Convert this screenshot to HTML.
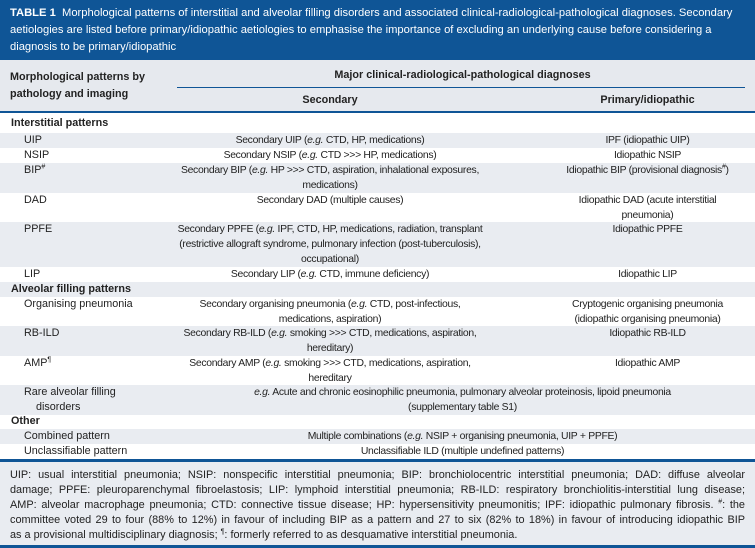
<!DOCTYPE html>
<html><head><meta charset="utf-8"><style>
*{margin:0;padding:0;box-sizing:border-box}
body{width:755px;height:548px;background:#fff;font-family:"Liberation Sans",sans-serif;font-size:10.4px;color:#222;position:relative;overflow:hidden;letter-spacing:-0.3px}
.t{position:absolute;left:0;top:0;width:755px;height:60px;background:#0f5596;color:#fff;padding:5px 10px;line-height:17px;font-size:11.2px;letter-spacing:0}
.t div{white-space:nowrap}
.hd{position:absolute;left:0;top:60px;width:755px;height:51px;background:#e6e9ee;font-size:10.8px;letter-spacing:0}
.r{position:absolute;left:0;width:755px}
.g{background:#e9ecf1}
.c{position:absolute;top:0;line-height:15px;white-space:nowrap}
.c1{left:24px;width:156px;font-size:10.8px;letter-spacing:0}
.c2{left:160px;width:340px;text-align:center}
.c3{left:530px;width:235px;text-align:center}
.cs{left:180px;width:565px;text-align:center}
.sec{left:11px;font-weight:bold;font-size:10.8px;letter-spacing:0}
.ft{position:absolute;left:0;top:462px;width:755px;height:83px;background:#e9ecf1;padding:6px 10px;line-height:15px;font-size:10.9px;letter-spacing:0}
.ft div{text-align:justify;text-align-last:justify;white-space:nowrap}
.ft div.l{text-align-last:left}
sup{font-size:7px;line-height:0}
</style></head><body>
<div class="t"><div><b>TABLE 1</b>&nbsp; Morphological patterns of interstitial and alveolar filling disorders and associated clinical-radiological-pathological diagnoses. Secondary</div><div>aetiologies are listed before primary/idiopathic aetiologies to emphasise the importance of excluding an underlying cause before considering a</div><div>diagnosis to be primary/idiopathic</div></div>
<div class="hd">
<div style="position:absolute;left:10px;top:9px;width:170px;font-weight:bold;line-height:17px">Morphological patterns by pathology and imaging</div>
<div style="position:absolute;left:180px;width:565px;top:9px;text-align:center;font-weight:bold">Major clinical-radiological-pathological diagnoses</div>
<div style="position:absolute;left:177px;width:568px;top:27px;height:1px;background:#0f5596"></div>
<div style="position:absolute;left:180px;width:300px;top:34px;text-align:center;font-weight:bold">Secondary</div>
<div style="position:absolute;left:545px;width:205px;top:34px;text-align:center;font-weight:bold">Primary/idiopathic</div>
</div>
<div style="position:absolute;left:0;top:111px;width:755px;height:2px;background:#0f5596"></div>

<div class="r" style="top:116px;height:17px"><div class="c sec">Interstitial patterns</div></div>
<div class="r g" style="top:133px;height:15px"><div class="c c1">UIP</div><div class="c c2">Secondary UIP (<i>e.g.</i> CTD, HP, medications)</div><div class="c c3">IPF (idiopathic UIP)</div></div>
<div class="r" style="top:148px;height:15px"><div class="c c1">NSIP</div><div class="c c2">Secondary NSIP (<i>e.g.</i> CTD &gt;&gt;&gt; HP, medications)</div><div class="c c3">Idiopathic NSIP</div></div>
<div class="r g" style="top:163px;height:30px"><div class="c c1">BIP<sup>#</sup></div><div class="c c2">Secondary BIP (<i>e.g.</i> HP &gt;&gt;&gt; CTD, aspiration, inhalational exposures,<br>medications)</div><div class="c c3">Idiopathic BIP (provisional diagnosis<sup>#</sup>)</div></div>
<div class="r" style="top:193px;height:29px"><div class="c c1">DAD</div><div class="c c2">Secondary DAD (multiple causes)</div><div class="c c3">Idiopathic DAD (acute interstitial<br>pneumonia)</div></div>
<div class="r g" style="top:222px;height:45px"><div class="c c1">PPFE</div><div class="c c2">Secondary PPFE (<i>e.g.</i> IPF, CTD, HP, medications, radiation, transplant<br>(restrictive allograft syndrome, pulmonary infection (post-tuberculosis),<br>occupational)</div><div class="c c3">Idiopathic PPFE</div></div>
<div class="r" style="top:267px;height:15px"><div class="c c1">LIP</div><div class="c c2">Secondary LIP (<i>e.g.</i> CTD, immune deficiency)</div><div class="c c3">Idiopathic LIP</div></div>
<div class="r g" style="top:282px;height:15px"><div class="c sec">Alveolar filling patterns</div></div>
<div class="r" style="top:297px;height:29px"><div class="c c1">Organising pneumonia</div><div class="c c2">Secondary organising pneumonia (<i>e.g.</i> CTD, post-infectious,<br>medications, aspiration)</div><div class="c c3">Cryptogenic organising pneumonia<br>(idiopathic organising pneumonia)</div></div>
<div class="r g" style="top:326px;height:30px"><div class="c c1">RB-ILD</div><div class="c c2">Secondary RB-ILD (<i>e.g.</i> smoking &gt;&gt;&gt; CTD, medications, aspiration,<br>hereditary)</div><div class="c c3">Idiopathic RB-ILD</div></div>
<div class="r" style="top:356px;height:29px"><div class="c c1">AMP<sup>¶</sup></div><div class="c c2">Secondary AMP (<i>e.g.</i> smoking &gt;&gt;&gt; CTD, medications, aspiration,<br>hereditary</div><div class="c c3">Idiopathic AMP</div></div>
<div class="r g" style="top:385px;height:30px"><div class="c c1">Rare alveolar filling<br>&nbsp;&nbsp;&nbsp;&nbsp;disorders</div><div class="c cs"><i>e.g.</i> Acute and chronic eosinophilic pneumonia, pulmonary alveolar proteinosis, lipoid pneumonia<br>(supplementary table S1)</div></div>
<div class="r" style="top:415px;height:14px"><div class="c sec" style="top:-1px">Other</div></div>
<div class="r g" style="top:429px;height:15px"><div class="c c1">Combined pattern</div><div class="c cs">Multiple combinations (<i>e.g.</i> NSIP + organising pneumonia, UIP + PPFE)</div></div>
<div class="r" style="top:444px;height:15px"><div class="c c1">Unclassifiable pattern</div><div class="c cs">Unclassifiable ILD (multiple undefined patterns)</div></div>
<div style="position:absolute;left:0;top:459px;width:755px;height:3px;background:#0f5596"></div>
<div class="ft">
<div>UIP: usual interstitial pneumonia; NSIP: nonspecific interstitial pneumonia; BIP: bronchiolocentric interstitial pneumonia; DAD: diffuse alveolar</div>
<div>damage; PPFE: pleuroparenchymal fibroelastosis; LIP: lymphoid interstitial pneumonia; RB-ILD: respiratory bronchiolitis-interstitial lung disease;</div>
<div>AMP: alveolar macrophage pneumonia; CTD: connective tissue disease; HP: hypersensitivity pneumonitis; IPF: idiopathic pulmonary fibrosis. <sup>#</sup>: the</div>
<div>committee voted 29 to four (88% to 12%) in favour of including BIP as a pattern and 27 to six (82% to 18%) in favour of introducing idiopathic BIP</div>
<div class="l">as a provisional multidisciplinary diagnosis; <sup>¶</sup>: formerly referred to as desquamative interstitial pneumonia.</div>
</div>
<div style="position:absolute;left:0;top:545px;width:755px;height:3px;background:#0f5596"></div>
</body></html>
